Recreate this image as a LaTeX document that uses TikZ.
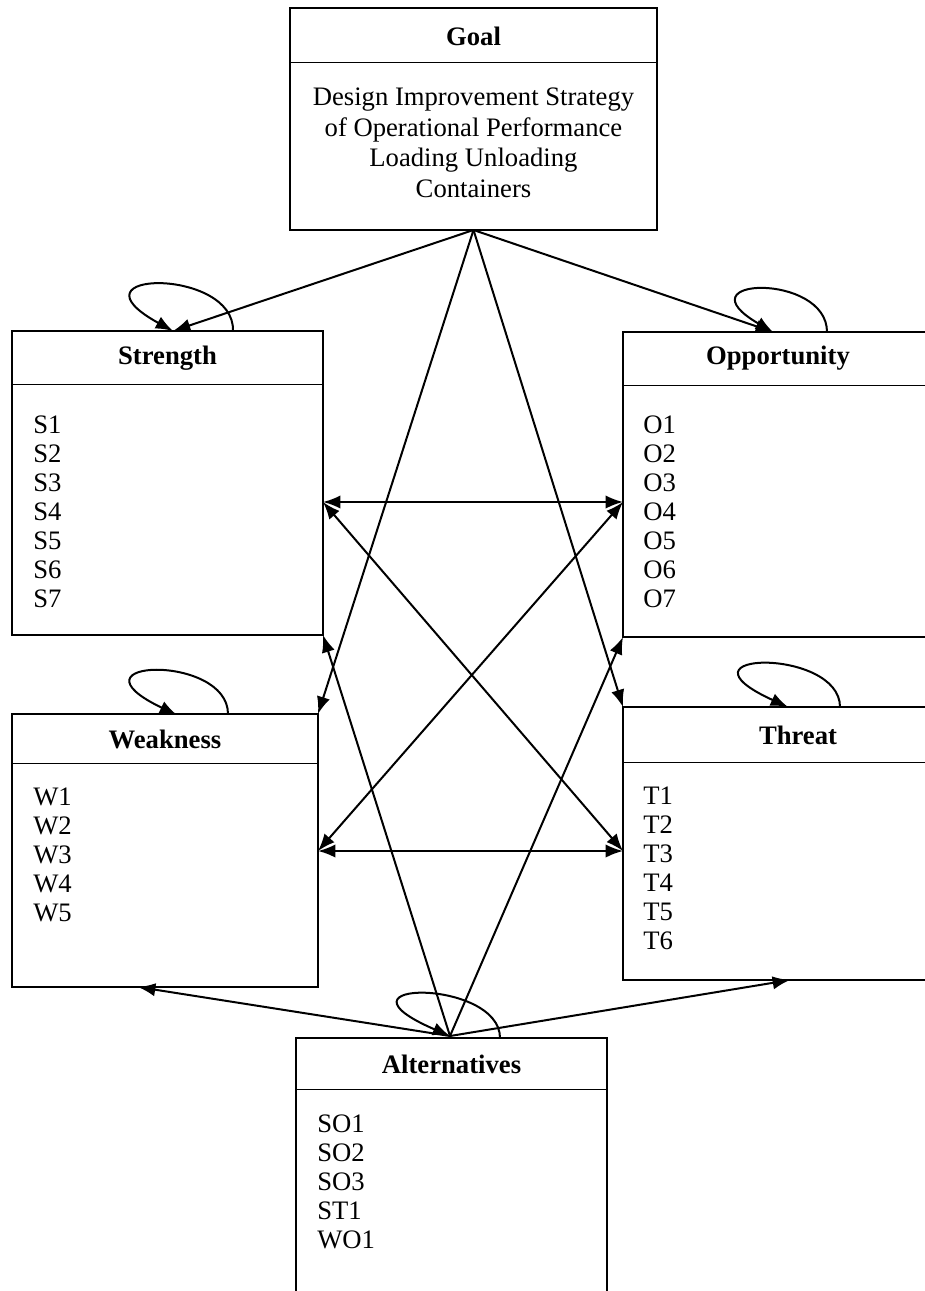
\documentclass[tikz,border=0pt]{standalone}
\usepackage{fontspec}
\setmainfont{Liberation Serif}
\usetikzlibrary{arrows.meta,fit}

\begin{document}
\begin{tikzpicture}[x=0.75pt,y=-0.75pt,
        box/.style={draw,line width=1.6pt,inner sep=0pt,outer sep=0pt},
        title/.style={font=\fontsize{20}{24}\selectfont\bfseries},
        list/.style={anchor=north west,inner sep=0pt,align=left,font=\fontsize{20}{21.75}\selectfont},
        sep/.style={line width=0.7pt},
        arr/.style={-{Latex[length=13pt,width=10pt]},line width=1.5pt},
        darr/.style={{Latex[length=13pt,width=10pt]}-{Latex[length=13pt,width=10pt]},line width=1.5pt}]
        \useasboundingbox (0,0) rectangle (924,1291);

        % goal
        \node[box,fit={(290,8) (657,230)}] (goal) {};
        \draw[sep] (290,62) -- (657,62);
        \node[title] (goaltitle) at (473.5,36) {Goal};
        \node[anchor=north,inner sep=0pt,align=center,font=\fontsize{20}{22.9}\selectfont] (goaltext) at (473.5,88)
            {Design Improvement Strategy\\of Operational Performance\\Loading Unloading\\Containers};

        % strength / opportunity
        \node[box,fit={(12,331) (323,635)}] (str) {};
        \draw[sep] (12,384) -- (323,384);
        \node[title] (strtitle) at (167.5,358) {Strength};
        \node[list] (strlist) at (33,416) {S1\\S2\\S3\\S4\\S5\\S6\\S7};

        \node[box,fit={(623,332) (930,637)}] (opp) {};
        \draw[sep] (623,385) -- (930,385);
        \node[title] (opptitle) at (778,358) {Opportunity};
        \node[list] (opplist) at (643,416) {O1\\O2\\O3\\O4\\O5\\O6\\O7};

        % weakness / threat
        \node[box,fit={(12,714) (318,987)}] (weak) {};
        \draw[sep] (12,763) -- (318,763);
        \node[title] (weaktitle) at (165,739) {Weakness};
        \node[list] (weaklist) at (33,788) {W1\\W2\\W3\\W4\\W5};

        \node[box,fit={(623,707) (930,980)}] (thr) {};
        \draw[sep] (623,762) -- (930,762);
        \node[title] (thrtitle) at (798,735) {Threat};
        \node[list] (thrlist) at (643,787) {T1\\T2\\T3\\T4\\T5\\T6};

        % alternatives
        \node[box,fit={(296,1038) (607,1300)}] (alt) {};
        \draw[sep] (296,1089) -- (607,1089);
        \node[title] (alttitle) at (451.5,1064) {Alternatives};
        \node[list] (altlist) at (317,1115) {SO1\\SO2\\SO3\\ST1\\WO1};

        \coordinate (strin) at (173,331);
        \coordinate (strloop) at (233,331);
        \coordinate (oppin) at (773,332);
        \coordinate (opploop) at (827,332);
        \coordinate (weakin) at (177,715);
        \coordinate (weakloop) at (228,714);
        \coordinate (thrin) at (788,707);
        \coordinate (thrloop) at (840,707);
        \coordinate (altin) at (450,1036);
        \coordinate (altloop) at (500,1038);
        \coordinate (strmid) at (323,502);
        \coordinate (oppmid) at (623,502);
        \coordinate (weakmid) at (318,851);
        \coordinate (thrmid) at (623,851);
        \coordinate (weakbot) at (138,987);
        \coordinate (thrbot) at (790,980);

        \draw[arr] (goal.south) -- (strin);
        \draw[arr] (goal.south) -- (oppin);
        \draw[arr] (goal.south) -- (weak.north east);
        \draw[arr] (goal.south) -- (thr.north west);

        \draw[darr] (strmid) -- (oppmid);
        \draw[darr] (strmid) -- (thrmid);
        \draw[darr] (oppmid) -- (weakmid);
        \draw[darr] (weakmid) -- (thrmid);

        \draw[arr] (altin) -- (weakbot);
        \draw[arr] (altin) -- (thrbot);
        \draw[arr] (altin) -- (str.south east);
        \draw[arr] (altin) -- (opp.south west);

        % loops
        \draw[arr] (strloop) .. controls +(2,-64) and +(-111,-61) .. (strin);
        \draw[arr] (opploop) .. controls +(0,-60) and +(-95,-55) .. (oppin);
        \draw[arr] (weakloop) .. controls +(0,-61) and +(-117,-56) .. (weakin);
        \draw[arr] (thrloop) .. controls +(0,-60) and +(-123,-56) .. (thrin);
        \draw[arr] (altloop) .. controls +(0,-60) and +(-130,-56) .. (altin);
      \end{tikzpicture}
\end{document}
